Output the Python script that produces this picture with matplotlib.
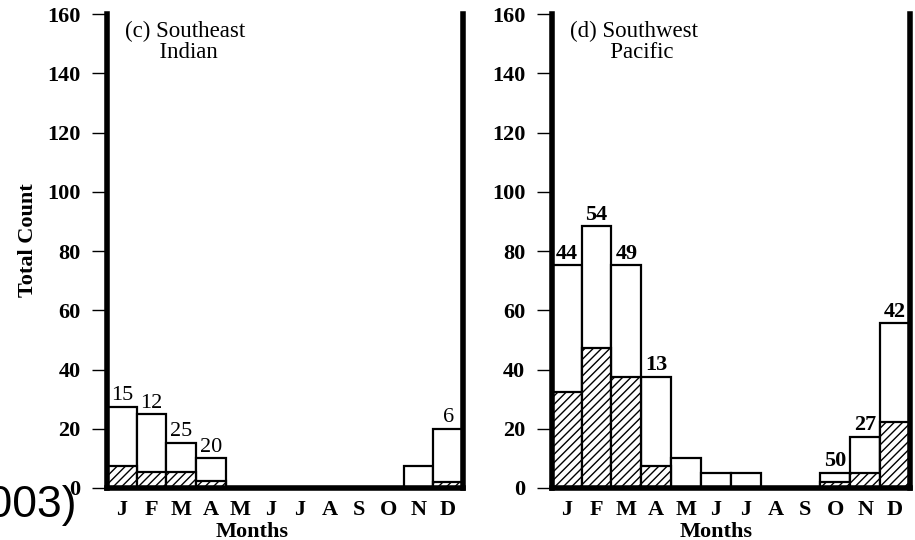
import matplotlib
matplotlib.use('Agg')
import matplotlib.pyplot as plt

# Monthly counts, Jan..Dec
months = ['J', 'F', 'M', 'A', 'M', 'J', 'J', 'A', 'S', 'O', 'N', 'D']

# (c) Southeast Indian
sei_total = [27.5, 25, 15.3, 10, 0, 0, 0, 0, 0, 0, 7.5, 20]
sei_hatch = [7.5, 5.5, 5.5, 2.4, 0, 0, 0, 0, 0, 0, 0, 2]
sei_labels = {0: '15', 1: '12', 2: '25', 3: '20', 11: '6'}

# (d) Southwest Pacific
swp_total = [75.3, 88.3, 75.3, 37.6, 10, 5.2, 5.2, 0, 0, 5.2, 17.3, 55.6]
swp_hatch = [32.5, 47.4, 37.6, 7.5, 0, 0, 0, 0, 0, 2, 5.2, 22.4]
swp_labels = {0: '44', 1: '54', 2: '49', 3: '13', 9: '50', 10: '27', 11: '42'}

yticks = [0, 20, 40, 60, 80, 100, 120, 140, 160]

plt.rcParams['font.family'] = ['Liberation Serif', 'DejaVu Serif']
plt.rcParams['hatch.linewidth'] = 1.0

fig = plt.figure(figsize=(9.15, 5.4), dpi=100)
ax1 = fig.add_axes([0.117, 0.0963, 0.389, 0.8777])
ax2 = fig.add_axes([0.603, 0.0963, 0.3915, 0.8777])


def draw_panel(ax, total, hatch, labels, title, lab_weight, months_x):
    x = list(range(len(months)))
    ax.bar(x, total, width=1.0, color='white', edgecolor='black',
           linewidth=1.6, zorder=2)
    ax.bar(x, hatch, width=1.0, color='white', edgecolor='black',
           linewidth=1.6, hatch='////', zorder=3)
    for i, txt in labels.items():
        ax.annotate(txt, (i, total[i]), xytext=(0, 1),
                    textcoords='offset points', ha='center', va='bottom',
                    fontsize=16, fontweight=lab_weight)
    ax.set_xlim(-0.5, 11.5)
    ax.set_ylim(0, 160)
    ax.set_yticks(yticks)
    ax.set_yticklabels([str(v) for v in yticks], fontweight='bold', fontsize=16)
    ax.set_xticks(x)
    ax.set_xticklabels(months, fontweight='bold', fontsize=16)
    ax.tick_params(axis='x', length=0, pad=9)
    ax.tick_params(axis='y', length=11, width=1.0, pad=8)
    ax.spines['top'].set_visible(False)
    for s in ['left', 'right', 'bottom']:
        ax.spines[s].set_linewidth(4.0)
        ax.spines[s].set_zorder(5)
    ax.set_xlabel('Months', fontsize=16, fontweight='bold')
    ax.xaxis.set_label_coords(months_x, -0.092)
    ax.xaxis.label.set_va('center')
    ax.text(0.05, 0.985, title, transform=ax.transAxes, ha='left', va='top',
            fontsize=16.5, linespacing=0.95)


draw_panel(ax1, sei_total, sei_hatch, sei_labels,
           '(c) Southeast\n      Indian', 'normal', 0.407)
draw_panel(ax2, swp_total, swp_hatch, swp_labels,
           '(d) Southwest\n       Pacific', 'bold', 0.46)

ax1.set_ylabel('Total Count', fontweight='bold', fontsize=16)
ax1.yaxis.set_label_coords(-0.222, 0.523)
ax1.yaxis.label.set_va('center')

# leftover text from the source page, cut off at the edge
fig.text(0.084, 0.063, '(2003)', ha='right', va='center', fontsize=32,
         family='Liberation Sans', zorder=10)

fig.savefig('out.png', dpi=100)
